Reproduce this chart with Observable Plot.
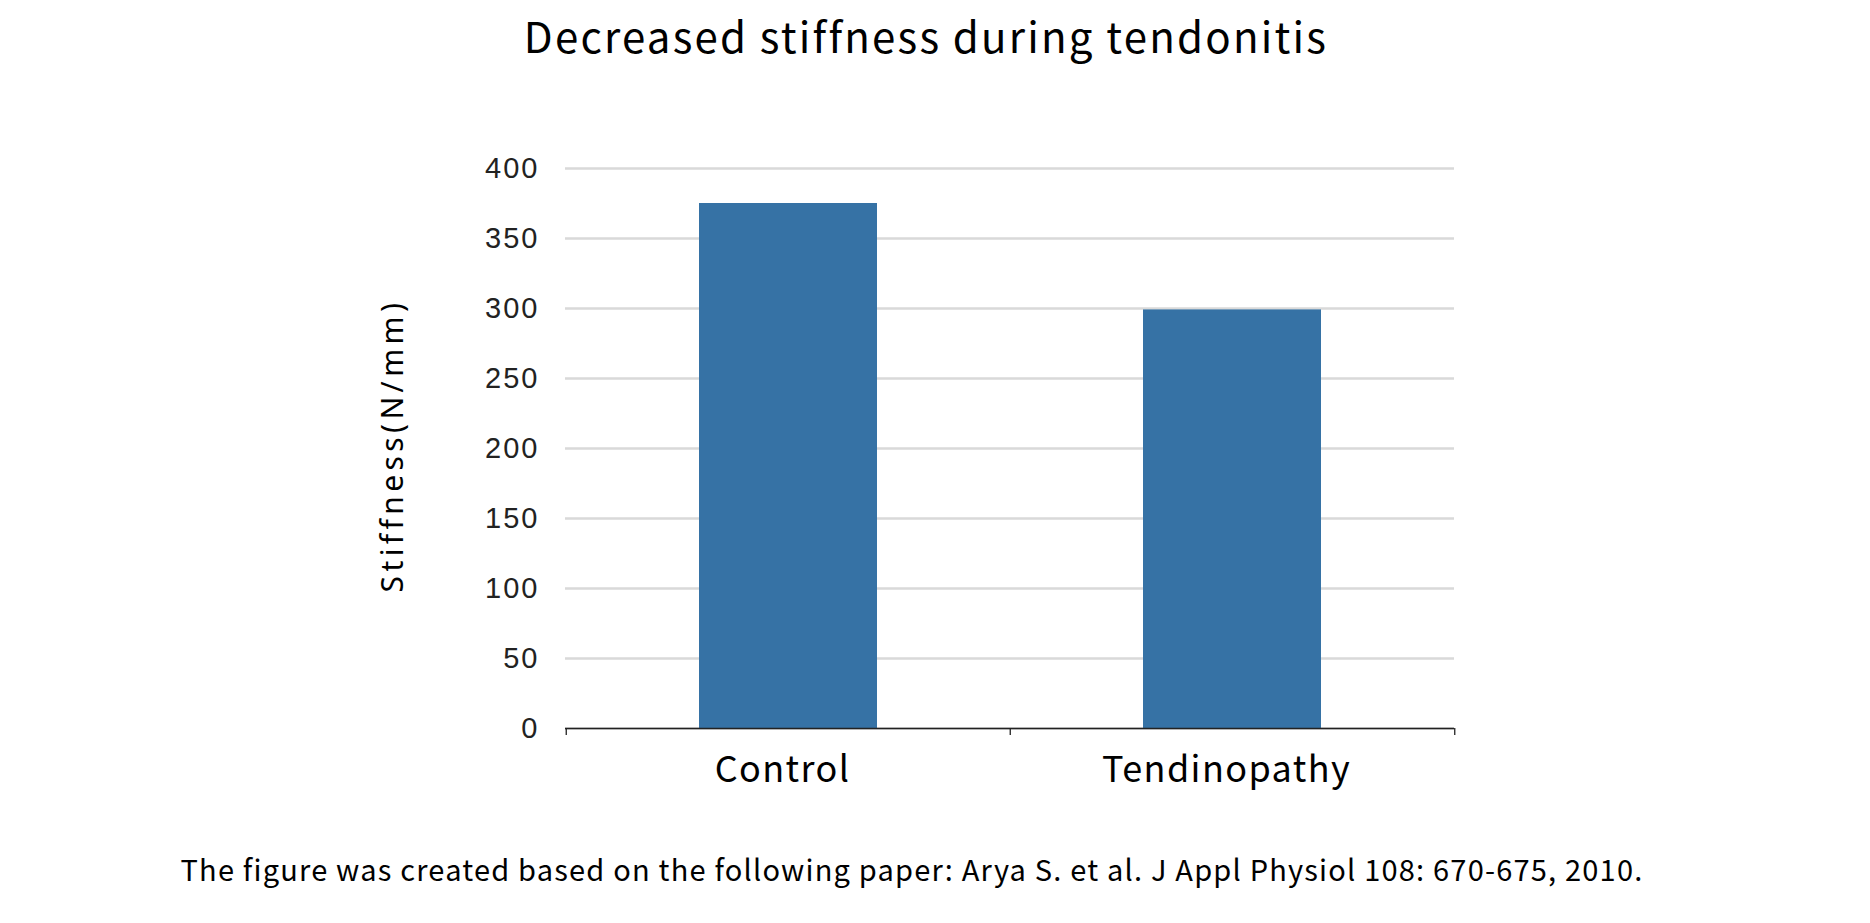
<!DOCTYPE html>
<html>
<head>
<meta charset="utf-8">
<script src="https://cdn.jsdelivr.net/npm/d3@7"></script>
<script src="https://cdn.jsdelivr.net/npm/@observablehq/plot@0.6"></script>
<style>
  html, body { margin: 0; padding: 0; background: #fff; }
  #wrap { width: 1870px; height: 923px; overflow: hidden; }
  #title { height: 80px; line-height: 69px; overflow: hidden; text-align: center; font-family: "Noto Sans CJK JP", "Noto Sans", sans-serif; font-size: 42px; color: #000; letter-spacing: 2.2px; padding-right: 18px; }
  #caption { height: 93px; line-height: 76px; text-align: center; font-family: "Noto Sans CJK JP", "Noto Sans", sans-serif; font-size: 29px; color: #000; letter-spacing: 1.2px; padding-right: 46px; }
  #chart svg { display: block; }
  #chart g[aria-label="y-axis tick label"] { letter-spacing: 2px; }
  #chart g[aria-label="x-axis tick label"] { letter-spacing: 1.4px; }
  #chart g[aria-label="text"] { letter-spacing: 4.4px; }
</style>
</head>
<body>
<div id="wrap">
  <div id="title">Decreased stiffness during tendonitis</div>
  <div id="chart"></div>
  <div id="caption">The figure was created based on the following paper: Arya S. et al. J Appl Physiol 108: 670-675, 2010.</div>
</div>
<script>
const categories = ["Control", "Tendinopathy"];
const stiffness = [375, 299];
const yTicks = [0, 50, 100, 150, 200, 250, 300, 350, 400];
const yLabel = "Stiffness(N/mm)";

const data = categories.map((c, i) => ({category: c, value: stiffness[i]}));

const W = 1870, H = 750;
const mL = 565, mR = 416, mT = 88, mB = 102;
const step = (W - mL - mR) / categories.length;
const lastCategory = [categories[categories.length - 1]];

const tickStyle = {x: d => d, y1: 0, y2: 0, insetTop: 0, insetBottom: -7, stroke: "#222", strokeWidth: 1.3};

const plot = Plot.plot({
  width: W,
  height: H,
  marginLeft: mL,
  marginRight: mR,
  marginTop: mT,
  marginBottom: mB,
  style: {background: "#fff", overflow: "visible"},
  x: {type: "band", domain: categories, paddingInner: 0.6, paddingOuter: 0.3, label: null},
  y: {domain: [0, 400], label: null},
  marks: [
    Plot.gridY(yTicks, {stroke: "#d9d9d9", strokeOpacity: 1, strokeWidth: 2.6}),
    Plot.barY(data, {x: "category", y: "value", fill: "#3672a5"}),
    Plot.ruleY([0], {stroke: "#222", strokeWidth: 1.6}),
    Plot.ruleX(categories, {...tickStyle, dx: -step / 2}),
    Plot.ruleX(lastCategory, {...tickStyle, dx: step / 2}),
    Plot.axisY(yTicks, {tickSize: 0, tickPadding: 26, fontSize: 29, fontFamily: "Liberation Sans, Arial, sans-serif", fill: "#222", label: null}),
    Plot.axisX(categories, {tickSize: 0, tickPadding: 28, dx: -6, fontSize: 36, fontFamily: "Noto Sans CJK JP, Noto Sans, sans-serif", fill: "#000", label: null}),
    Plot.text([yLabel], {frameAnchor: "left", textAnchor: "middle", lineAnchor: "middle", dx: -172, dy: -3, rotate: -90, text: d => d, fontSize: 30, fontFamily: "Noto Sans, sans-serif", fill: "#000"})
  ]
});
document.getElementById("chart").appendChild(plot);
</script>
</body>
</html>
